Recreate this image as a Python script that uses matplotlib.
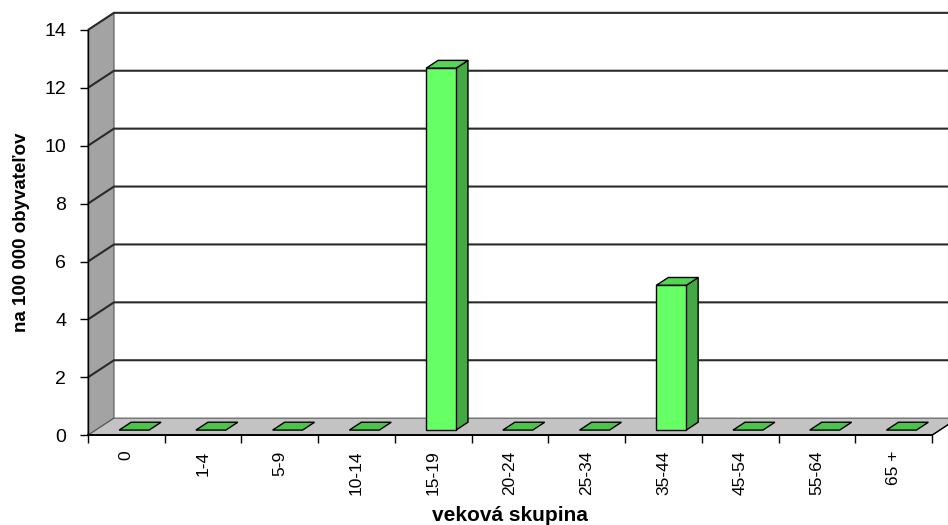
import matplotlib
matplotlib.use("Agg")
import matplotlib.pyplot as plt
from matplotlib.patches import Polygon
from matplotlib.ticker import FixedLocator, NullFormatter

plt.rcParams['font.family'] = ['Liberation Sans', 'DejaVu Sans']

categories = ['0', '1-4', '5-9', '10-14', '15-19', '20-24', '25-34',
              '35-44', '45-54', '55-64', '65 +']
values = [0, 0, 0, 0, 12.5, 0, 0, 5.0, 0, 0, 0]
yticks = [0, 2, 4, 6, 8, 10, 12, 14]

# depth offset of the 3d look, in data units
DX = 0.339
DY = 0.59
bar_w = 0.39
f1, f2 = 0.30, 0.76

fig = plt.figure(figsize=(9.48, 5.25), dpi=100)
ax = fig.add_axes([0.0928, 0.171, 0.8903, 0.772])
n = len(categories)
ax.set_xlim(0, n)
ax.set_ylim(0, 14)

# left wall
ax.add_patch(Polygon([(0, 0), (0, 14), (DX, 14 + DY), (DX, DY)], closed=True,
                     facecolor='#a3a3a3', edgecolor='#555555', lw=0.8,
                     clip_on=False, zorder=1))
# floor
ax.add_patch(Polygon([(0, 0), (n, 0), (n + DX, DY), (DX, DY)], closed=True,
                     facecolor='#c3c3c3', edgecolor='#555555', lw=0.8,
                     clip_on=False, zorder=1))

# gridlines on the back wall and left wall
for t in yticks[1:]:
    ax.plot([0, DX, n + DX], [t, t + DY, t + DY], color='#2a2a2a', lw=1.5,
            clip_on=False, zorder=2, solid_capstyle='butt')

# bars
for i, v in enumerate(values):
    x0 = i + 0.5 - bar_w / 2
    x1 = x0 + bar_w
    top = [(x0 + f1 * DX, v + f1 * DY), (x1 + f1 * DX, v + f1 * DY),
           (x1 + f2 * DX, v + f2 * DY), (x0 + f2 * DX, v + f2 * DY)]
    if v > 0:
        side = [(x1 + f1 * DX, f1 * DY), (x1 + f2 * DX, f2 * DY),
                (x1 + f2 * DX, v + f2 * DY), (x1 + f1 * DX, v + f1 * DY)]
        front = [(x0 + f1 * DX, f1 * DY), (x1 + f1 * DX, f1 * DY),
                 (x1 + f1 * DX, v + f1 * DY), (x0 + f1 * DX, v + f1 * DY)]
        ax.add_patch(Polygon(side, closed=True, facecolor='#44a844',
                             edgecolor='black', lw=1.0, zorder=4))
        ax.add_patch(Polygon(front, closed=True, facecolor='#66ff66',
                             edgecolor='black', lw=1.0, zorder=5))
        ax.add_patch(Polygon(top, closed=True, facecolor='#55d455',
                             edgecolor='black', lw=1.0, zorder=4))
    else:
        ax.add_patch(Polygon(top, closed=True, facecolor='#4cc44c',
                             edgecolor='black', lw=1.0, zorder=4))

# front right edge of the floor
ax.plot([n, n + DX], [0, DY], color='black', lw=1.0, clip_on=False, zorder=3)

for s in ['top', 'right']:
    ax.spines[s].set_visible(False)
ax.spines['left'].set_color('black')
ax.spines['bottom'].set_color('black')
ax.spines['left'].set_linewidth(1.0)
ax.spines['bottom'].set_linewidth(1.4)
ax.spines['left'].set_zorder(6)
ax.spines['bottom'].set_zorder(6)

ax.set_yticks(yticks)
ax.tick_params(axis='y', direction='out', length=5.8, width=1.0, labelsize=14, pad=10)

ax.xaxis.set_major_locator(FixedLocator(range(n + 1)))
ax.xaxis.set_major_formatter(NullFormatter())
ax.xaxis.set_minor_locator(FixedLocator([i + 0.5 for i in range(n)]))
ax.set_xticklabels(categories, minor=True, rotation=90, fontsize=12.5)
ax.tick_params(axis='x', which='major', direction='out', length=5.5, width=1.0)
ax.tick_params(axis='x', which='minor', length=0, pad=11)

ax.set_xlabel('veková skupina', fontsize=15, fontweight='bold', labelpad=7.5)
ax.set_ylabel('na 100 000 obyvateľov', fontsize=13.5, fontweight='bold', labelpad=10)
ax.patch.set_visible(False)

fig.savefig('out.png', dpi=100)
